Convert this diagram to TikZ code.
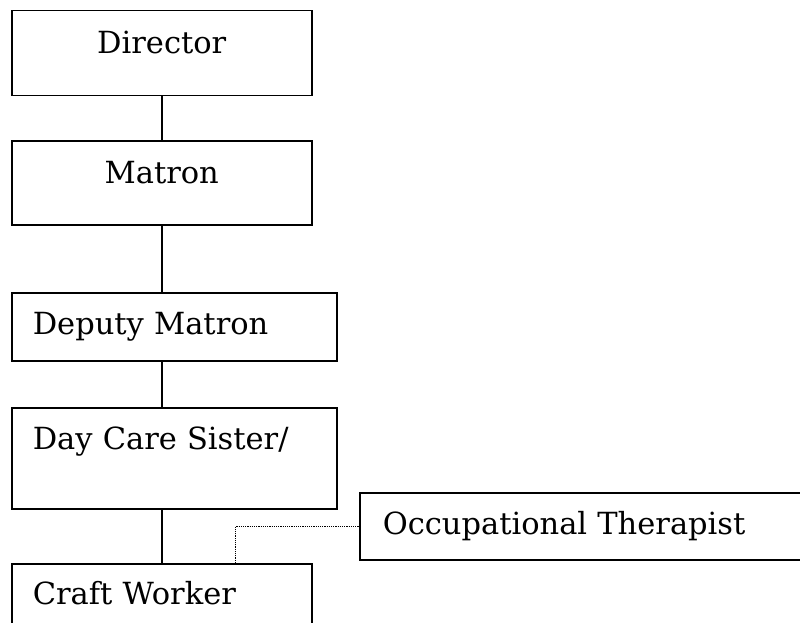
\documentclass[tikz,border=0pt]{standalone}
\usepackage{fontspec}
\setmainfont{DejaVu Serif}
\begin{document}
\begin{tikzpicture}[x=1pt, y=-1pt,
        box/.style={draw, line width=1.5pt, rectangle, anchor=north west, inner ysep=0pt,
            font=\fontsize{30.5}{34}\selectfont},
        post/.style={box, inner xsep=0pt, text width=300pt, align=center},
        wide/.style={box, inner xsep=21pt, text width=#1, align=left}
    ]
    \useasboundingbox (0,0) rectangle (800,623);
    \clip (0,0) rectangle (800,623);
    \node[post, text height=43pt, text depth=42pt] (director) at (11,10) {Director};
    \node[post, text height=43pt, text depth=41pt] (matron) at (11,140) {Matron};
    \node[wide=283pt, text height=42pt, text depth=26pt] (deputy) at (11,292) {Deputy Matron};
    \node[wide=283pt, text height=42pt, text depth=59pt] (sister) at (11,407) {Day Care Sister/};
    \node[wide=258pt, text height=41pt, text depth=80pt] (craft) at (11,563) {Craft Worker};
    \node[wide=454pt, inner xsep=23pt, text height=42pt, text depth=25pt] (therapist) at (359,492) {Occupational Therapist};
    \draw[line width=1.7pt] (director.south) -- (matron.north);
    \draw[line width=1.7pt] (matron.south) -- (matron.south |- deputy.north);
    \draw[line width=1.7pt] (matron.south |- deputy.south) -- (matron.south |- sister.north);
    \draw[line width=1.7pt] (craft.north |- sister.south) -- (craft.north);
    \draw[densely dotted, line width=1.2pt] ([xshift=74pt]craft.north) |- (therapist.west);
\end{tikzpicture}
\end{document}
